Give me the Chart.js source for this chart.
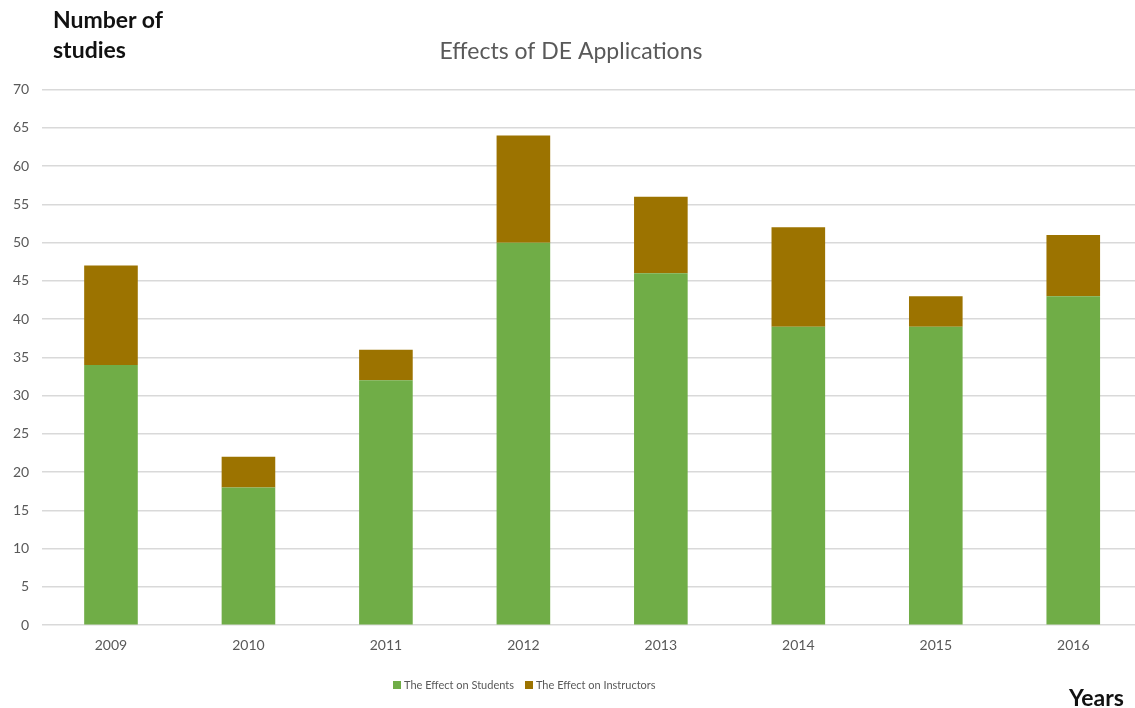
<!DOCTYPE html>
<html>
<head>
<meta charset="utf-8">
<script src="https://cdn.jsdelivr.net/npm/chart.js@4.4.1/dist/chart.umd.min.js"></script>
<style>
  html, body { margin: 0; padding: 0; background: #fff; overflow: hidden; width: 1135px; height: 708px; }
  #wrap { position: absolute; left: 0; top: 0; width: 1142px; height: 708px; }
  .lbl { position: absolute; font-family: Lato, "Open Sans", sans-serif; font-weight: bold; color: #111; font-size: 23px; line-height: 30px; }
  #legend { position: absolute; top: 678px; left: 393px; font-family: Lato, "Open Sans", sans-serif; font-size: 11px; color: #595959; white-space: nowrap; }
  #legend span.item { margin-right: 11px; }
  #legend span.box { display: inline-block; width: 8px; height: 8px; margin-right: 3px; vertical-align: 0px; }
</style>
</head>
<body>
<div id="wrap"><canvas id="c" width="1142" height="708"></canvas></div>
<div class="lbl" style="left:53px; top:4px;">Number of<br>studies</div>
<div class="lbl" style="left:1069px; top:682px;">Years</div>
<div id="legend"></div>
<script>
const years = ["2009", "2010", "2011", "2012", "2013", "2014", "2015", "2016"];
const students = [34, 18, 32, 50, 46, 39, 39, 43];
const instructors = [13, 4, 4, 14, 10, 13, 4, 8];
const seriesNames = ["The Effect on Students", "The Effect on Instructors"];
const seriesColors = ["#70AD47", "#9C7300"];
const titleText = "Effects of DE Applications";

const ctx = document.getElementById('c');
const chart = new Chart(ctx, {
  type: 'bar',
  data: {
    labels: years,
    datasets: [
      { label: seriesNames[0], data: students, backgroundColor: seriesColors[0] },
      { label: seriesNames[1], data: instructors, backgroundColor: seriesColors[1] }
    ]
  },
  options: {
    responsive: false,
    animation: false,
    devicePixelRatio: 1,
    layout: { padding: { top: 38, left: 0, right: 0, bottom: 50 } },
    datasets: { bar: { categoryPercentage: 1.0, barPercentage: 0.39 } },
    plugins: {
      legend: { display: false },
      tooltip: { enabled: false },
      title: {
        display: true,
        text: titleText,
        color: '#595959',
        font: { family: 'Lato, "Open Sans", sans-serif', size: 23, weight: 'normal' },
        padding: { top: 0, bottom: 24 }
      }
    },
    scales: {
      x: {
        stacked: true,
        grid: { display: false },
        border: { display: false },
        ticks: { color: '#595959', font: { family: 'Lato, "Open Sans", sans-serif', size: 14 }, padding: 4 }
      },
      y: {
        stacked: true,
        min: 0, max: 70,
        ticks: { stepSize: 5, color: '#595959', font: { family: 'Lato, "Open Sans", sans-serif', size: 14 }, padding: 13 },
        grid: { color: '#D9D9D9', lineWidth: 1.5, drawTicks: false },
        border: { display: false }
      }
    }
  }
});

const leg = document.getElementById('legend');
chart.data.datasets.forEach(ds => {
  const it = document.createElement('span');
  it.className = 'item';
  const b = document.createElement('span');
  b.className = 'box';
  b.style.background = ds.backgroundColor;
  it.appendChild(b);
  it.appendChild(document.createTextNode(ds.label));
  leg.appendChild(it);
});
</script>
</body>
</html>
